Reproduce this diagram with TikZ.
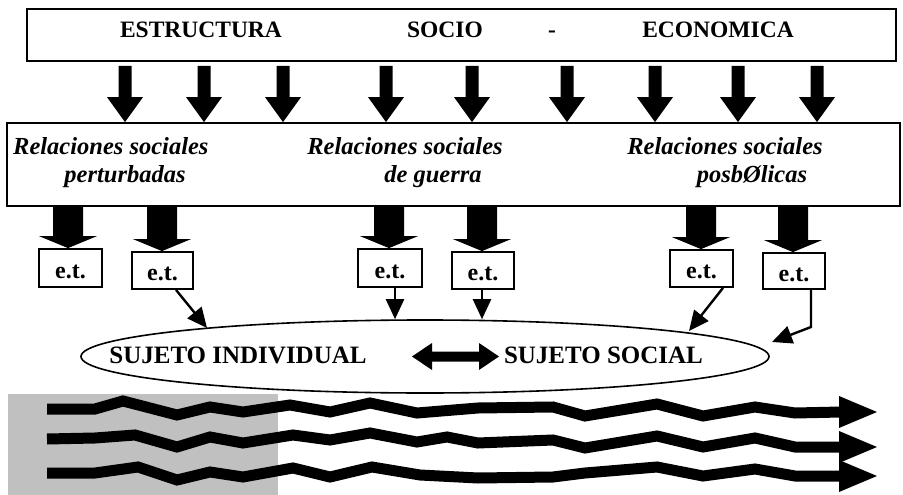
\documentclass[tikz,border=0pt]{standalone}
\usepackage{fontspec}
\setmainfont{Liberation Serif}
\usetikzlibrary{arrows.meta,shapes.geometric,calc}
\newcommand\blockdown[6]{%
  \fill let \p1=(#5), \p2=(#6) in
    (\x1-#1/2,\y1-#4) -- (\x1-#1/2,\y2+#3) -- (\x1-#2/2,\y2+#3) -- (\x1,\y2)
    -- (\x1+#2/2,\y2+#3) -- (\x1+#1/2,\y2+#3) -- (\x1+#1/2,\y1-#4) -- cycle;}
\begin{document}
\begin{tikzpicture}[x=1pt,y=-1pt,
  box/.style={draw, line width=1.8pt, inner sep=0pt, fill=white},
  captxt/.style={font=\fontsize{23.5}{28}\selectfont\bfseries, inner sep=0pt},
  reltxt/.style={font=\fontsize{24.5}{28}\selectfont\bfseries\itshape, inner sep=0pt},
  etbox/.style={box, font=\fontsize{24}{28}\selectfont\bfseries, text height=20pt, text depth=0pt},
  subjtxt/.style={font=\fontsize{25}{28}\selectfont\bfseries, inner sep=0pt},
  thinarrow/.style={line width=2.4pt, line join=miter, -{Triangle[length=20pt,width=18pt]}},
  wave/.style={line width=11pt, line join=miter}]
\useasboundingbox (0,0) rectangle (903,495);

% top box
\node[box, minimum width=869pt, minimum height=52pt] (top) at (461.5,35) {};
\node[captxt, anchor=base] (t1) at (201,38) {ESTRUCTURA};
\node[captxt, anchor=base] (t2) at (445,38) {SOCIO};
\node[captxt, anchor=base] (t3) at (552,38) {-};
\node[captxt, anchor=base] (t4) at (718,38) {ECONOMICA};

% middle box
\node[box, minimum width=893pt, minimum height=83pt] (mid) at (453.5,164.5) {};
\node[reltxt, anchor=base west] (r1a) at (13,154) {Relaciones sociales};
\node[reltxt, anchor=base] (r1b) at (125,182) {perturbadas};
\node[reltxt, anchor=base] (r2a) at (405,154) {Relaciones sociales};
\node[reltxt, anchor=base] (r2b) at (433,182) {de guerra};
\node[reltxt, anchor=base] (r3a) at (725,154) {Relaciones sociales};
\node[reltxt, anchor=base] (r3b) at (752,182) {posbØlicas};

% top arrows
\foreach \i/\x in {1/125,2/204,3/283,4/386,5/472,6/567,7/655,8/738,9/817}{
  \coordinate (c\i) at (\x,0);
  \blockdown{13pt}{36pt}{25pt}{4pt}{top.south -| c\i}{mid.north -| c\i}
}

% e.t. boxes
\node[etbox, minimum width=63pt, minimum height=38pt] (et1) at (70.5,268) {e.t.};
\node[etbox, minimum width=61pt, minimum height=37pt] (et2) at (162.5,270.5) {e.t.};
\node[etbox, minimum width=64pt, minimum height=38pt] (et3) at (390,268) {e.t.};
\node[etbox, minimum width=62pt, minimum height=37pt] (et4) at (483,270.5) {e.t.};
\node[etbox, minimum width=63pt, minimum height=37pt] (et5) at (701.5,268.5) {e.t.};
\node[etbox, minimum width=62pt, minimum height=36pt] (et6) at (794,271) {e.t.};

% thick arrows
\foreach \i/\x in {1/68,2/162,3/389,4/482,5/701,6/793}{
  \coordinate (d\i) at (\x,0);
  \blockdown{30pt}{58pt}{12pt}{0pt}{mid.south -| d\i}{et\i.north -| d\i}
}

% ellipse
\node[draw, ellipse, line width=1.6pt, minimum width=688pt, minimum height=73pt, inner sep=0pt] (ell) at (425,356.5) {};
\node[subjtxt, anchor=base] (sind) at (238,363) {SUJETO INDIVIDUAL};
\node[subjtxt, anchor=base] (ssoc) at (603.5,363) {SUJETO SOCIAL};

% double arrow
\coordinate (dl) at (412,356.5);
\coordinate (dr) at (499,356.5);
\fill (dl) -- (432,343) -- (432,351.5) -- (479,351.5) -- (479,343) -- (dr)
  -- (479,370) -- (479,361.5) -- (432,361.5) -- (432,370) -- cycle;

% thin arrows
\coordinate (s2) at (176,0);
\coordinate (e2) at (207,328);
\draw[thinarrow] (et2.south -| s2) -- (e2);
\coordinate (s3) at (395,0);
\draw[thinarrow] (et3.south -| s3) -- (ell.north -| s3);
\coordinate (s4) at (482,0);
\draw[thinarrow] (et4.south -| s4) -- (ell.north -| s4);
\coordinate (s5) at (723,0);
\coordinate (e5) at (689,331);
\draw[thinarrow] (et5.south -| s5) -- (e5);
\coordinate (s6) at (811,0);
\coordinate (k6) at (811,327);
\coordinate (e6) at (772,342);
\draw[thinarrow] (et6.south -| s6) -- (k6) -- (e6);

% gray band
\fill[fill={rgb,255:red,192;green,192;blue,192}] (8,394) rectangle (278,495);

% wavy arrows
\draw[wave] (47,409) -- (95,409) -- (123,401) -- (177,415) -- (210,407) -- (243,412)
  -- (290,405) -- (330,412) -- (370,403) -- (417,413) -- (478,408) -- (553,407)
  -- (585,416) -- (657,404) -- (703,416) -- (755,407) -- (795,413) -- (841,412);
\fill (839,396) -- (877,412) -- (839,428) -- cycle;
\draw[wave] (47,439) -- (95,438) -- (135,435) -- (177,447) -- (210,437) -- (243,443)
  -- (293,435) -- (330,440) -- (370,433) -- (417,442) -- (447,437) -- (478,443)
  -- (553,440) -- (585,448) -- (657,436) -- (703,447) -- (755,438) -- (795,447) -- (841,447);
\fill (839,431) -- (877,447) -- (839,463) -- cycle;
\draw[wave] (47,473) -- (95,473) -- (138,467) -- (177,480) -- (210,472) -- (243,477)
  -- (293,468) -- (330,477) -- (372,467) -- (420,475) -- (478,478) -- (553,477)
  -- (585,473) -- (657,467) -- (703,476) -- (755,469) -- (795,476) -- (841,476);
\fill (839,460) -- (877,476) -- (839,492) -- cycle;
\end{tikzpicture}
\end{document}
